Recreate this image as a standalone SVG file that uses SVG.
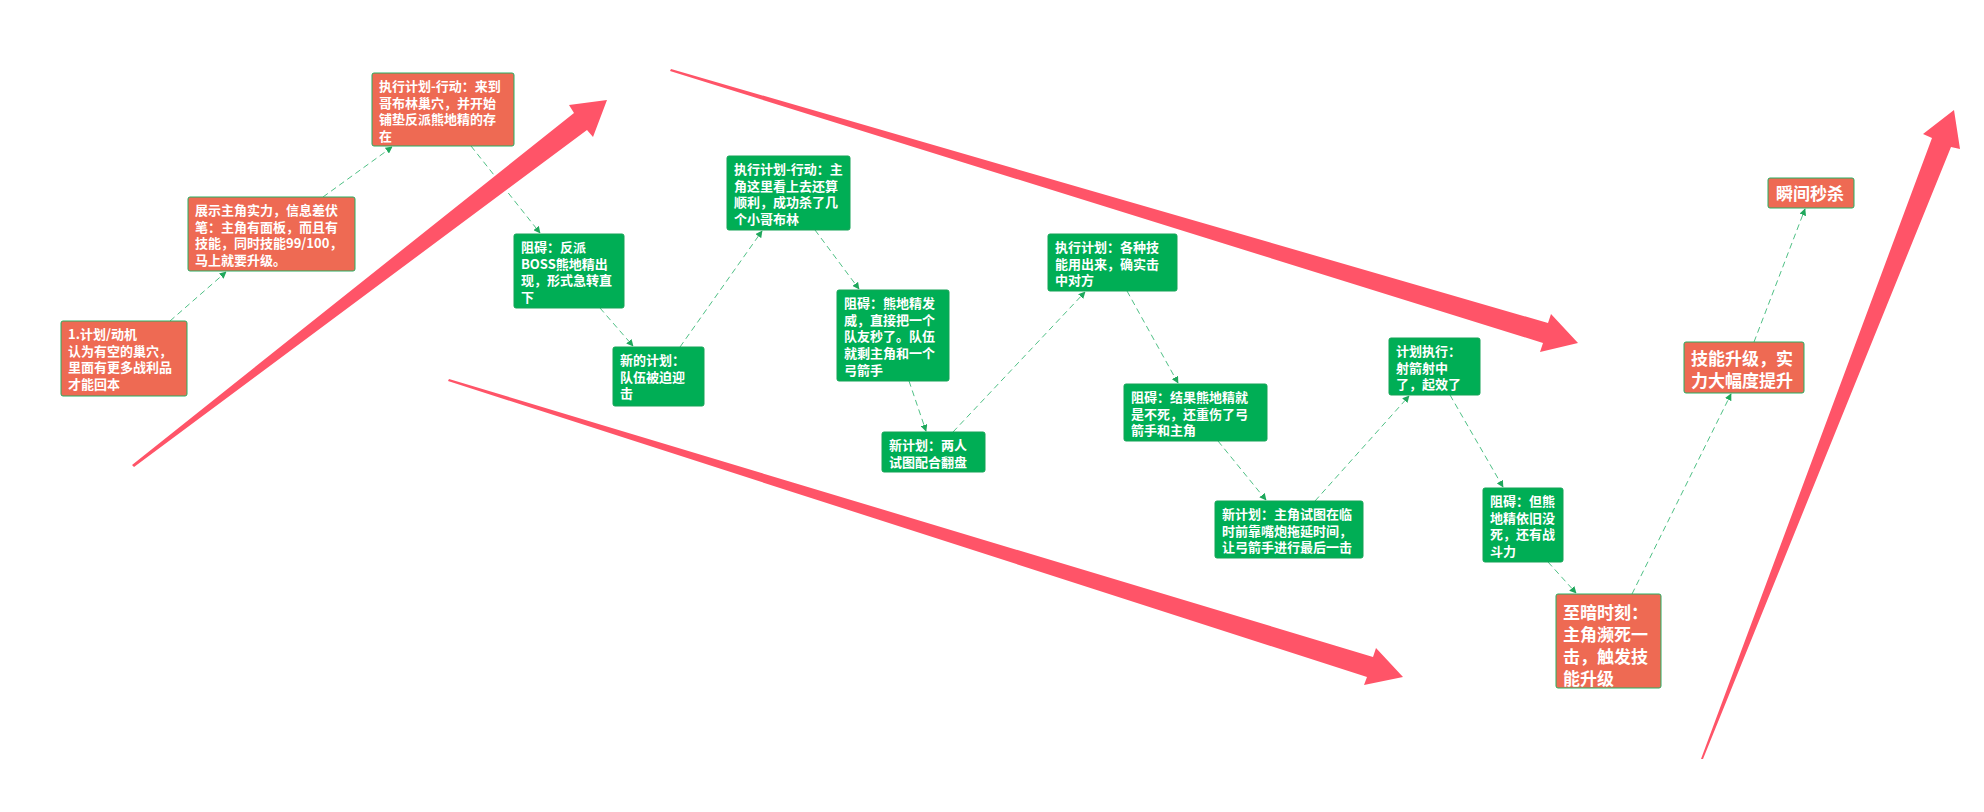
<svg xmlns="http://www.w3.org/2000/svg" width="1984" height="812" viewBox="0 0 1984 812">
<style>
.bg{fill:#ffffff}
.o{fill:#EE6A53;stroke:#27AE60;stroke-width:1}
.g{fill:#00AE55;stroke:#15A356;stroke-width:1}
.t{font-family:"Noto Sans CJK SC","Noto Sans",sans-serif;font-size:13px;font-weight:bold;fill:#ffffff}
.tb{font-family:"Noto Sans CJK SC","Noto Sans",sans-serif;font-size:17px;font-weight:bold;fill:#ffffff}
.c{fill:none;stroke:#4FC085;stroke-width:1;stroke-dasharray:6 4}
.big{fill:#FF5468}
</style>
<defs>
<marker id="ah" viewBox="0 0 10 10" refX="9" refY="5" markerWidth="7" markerHeight="7" markerUnits="userSpaceOnUse" orient="auto">
<path d="M0,0 L10,5 L0,10 z" fill="#1FA85C"/>
</marker>
</defs>
<rect class="bg" x="0" y="0" width="1984" height="812"/>
<g id="connectors">
<line class="c" x1="170" y1="321" x2="226" y2="272" marker-end="url(#ah)"/>
<line class="c" x1="323" y1="197" x2="392" y2="147" marker-end="url(#ah)"/>
<line class="c" x1="471" y1="146" x2="540" y2="233" marker-end="url(#ah)"/>
<line class="c" x1="600" y1="308" x2="633" y2="346" marker-end="url(#ah)"/>
<line class="c" x1="680" y1="347" x2="762" y2="231" marker-end="url(#ah)"/>
<line class="c" x1="815" y1="230" x2="859" y2="289" marker-end="url(#ah)"/>
<line class="c" x1="909" y1="381" x2="926" y2="431" marker-end="url(#ah)"/>
<line class="c" x1="953" y1="432" x2="1085" y2="292" marker-end="url(#ah)"/>
<line class="c" x1="1127" y1="291" x2="1178" y2="383" marker-end="url(#ah)"/>
<line class="c" x1="1218" y1="441" x2="1266" y2="500" marker-end="url(#ah)"/>
<line class="c" x1="1315" y1="501" x2="1409" y2="396" marker-end="url(#ah)"/>
<line class="c" x1="1450" y1="395" x2="1503" y2="487" marker-end="url(#ah)"/>
<line class="c" x1="1548" y1="562" x2="1576" y2="593" marker-end="url(#ah)"/>
<line class="c" x1="1632" y1="594" x2="1731" y2="394" marker-end="url(#ah)"/>
<line class="c" x1="1754" y1="342" x2="1805" y2="209" marker-end="url(#ah)"/>
</g>
<g id="trend-arrows">
<polygon class="big" points="132,465 574,113 569,105 607,100 593,137 587,130 134,467"/>
<polygon class="big" points="671,69 1548,323 1551,314 1578,343 1540,352 1543,343 670,71"/>
<polygon class="big" points="449,379 1373,657 1376,648 1403,677 1364,685 1367,677 448,381"/>
<polygon class="big" points="1701,759 1932,138 1923,134 1954,110 1960,149 1951,147 1703,759"/>
</g>
<g id="n1">
<rect class="o" x="61" y="321" width="126" height="75" rx="2"/>
<text class="t" x="68" y="339">1.计划/动机</text>
<text class="t" x="68" y="356">认为有空的巢穴，</text>
<text class="t" x="68" y="372">里面有更多战利品</text>
<text class="t" x="68" y="389">才能回本</text>
</g>
<g id="n2">
<rect class="o" x="188" y="197" width="167" height="74" rx="2"/>
<text class="t" x="195" y="215">展示主角实力，信息差伏</text>
<text class="t" x="195" y="232">笔：主角有面板，而且有</text>
<text class="t" x="195" y="248">技能，同时技能99/100，</text>
<text class="t" x="195" y="265">马上就要升级。</text>
</g>
<g id="n3">
<rect class="o" x="372" y="73" width="142" height="73" rx="2"/>
<text class="t" x="379" y="91">执行计划-行动：来到</text>
<text class="t" x="379" y="108">哥布林巢穴，并开始</text>
<text class="t" x="379" y="124">铺垫反派熊地精的存</text>
<text class="t" x="379" y="141">在</text>
</g>
<g id="n4">
<rect class="g" x="514" y="234" width="110" height="74" rx="2"/>
<text class="t" x="521" y="252">阻碍：反派</text>
<text class="t" x="521" y="269">BOSS熊地精出</text>
<text class="t" x="521" y="285">现，形式急转直</text>
<text class="t" x="521" y="302">下</text>
</g>
<g id="n5">
<rect class="g" x="613" y="347" width="91" height="59" rx="2"/>
<text class="t" x="620" y="365">新的计划：</text>
<text class="t" x="620" y="382">队伍被迫迎</text>
<text class="t" x="620" y="398">击</text>
</g>
<g id="n6">
<rect class="g" x="727" y="156" width="123" height="74" rx="2"/>
<text class="t" x="734" y="174">执行计划-行动：主</text>
<text class="t" x="734" y="191">角这里看上去还算</text>
<text class="t" x="734" y="207">顺利，成功杀了几</text>
<text class="t" x="734" y="224">个小哥布林</text>
</g>
<g id="n7">
<rect class="g" x="837" y="290" width="112" height="91" rx="2"/>
<text class="t" x="844" y="308">阻碍：熊地精发</text>
<text class="t" x="844" y="325">威，直接把一个</text>
<text class="t" x="844" y="341">队友秒了。队伍</text>
<text class="t" x="844" y="358">就剩主角和一个</text>
<text class="t" x="844" y="375">弓箭手</text>
</g>
<g id="n8">
<rect class="g" x="882" y="432" width="103" height="40" rx="2"/>
<text class="t" x="889" y="450">新计划：两人</text>
<text class="t" x="889" y="467">试图配合翻盘</text>
</g>
<g id="n9">
<rect class="g" x="1048" y="234" width="129" height="57" rx="2"/>
<text class="t" x="1055" y="252">执行计划：各种技</text>
<text class="t" x="1055" y="269">能用出来，确实击</text>
<text class="t" x="1055" y="285">中对方</text>
</g>
<g id="n10">
<rect class="g" x="1124" y="384" width="143" height="57" rx="2"/>
<text class="t" x="1131" y="402">阻碍：结果熊地精就</text>
<text class="t" x="1131" y="419">是不死，还重伤了弓</text>
<text class="t" x="1131" y="435">箭手和主角</text>
</g>
<g id="n11">
<rect class="g" x="1215" y="501" width="148" height="57" rx="2"/>
<text class="t" x="1222" y="519">新计划：主角试图在临</text>
<text class="t" x="1222" y="536">时前靠嘴炮拖延时间，</text>
<text class="t" x="1222" y="552">让弓箭手进行最后一击</text>
</g>
<g id="n12">
<rect class="g" x="1389" y="338" width="91" height="57" rx="2"/>
<text class="t" x="1396" y="356">计划执行：</text>
<text class="t" x="1396" y="373">射箭射中</text>
<text class="t" x="1396" y="389">了，起效了</text>
</g>
<g id="n13">
<rect class="g" x="1483" y="488" width="80" height="74" rx="2"/>
<text class="t" x="1490" y="506">阻碍：但熊</text>
<text class="t" x="1490" y="523">地精依旧没</text>
<text class="t" x="1490" y="539">死，还有战</text>
<text class="t" x="1490" y="556">斗力</text>
</g>
<g id="n14">
<rect class="o" x="1556" y="594" width="105" height="94" rx="2"/>
<text class="tb" x="1563" y="619">至暗时刻：</text>
<text class="tb" x="1563" y="641">主角濒死一</text>
<text class="tb" x="1563" y="663">击，触发技</text>
<text class="tb" x="1563" y="685">能升级</text>
</g>
<g id="n15">
<rect class="o" x="1684" y="342" width="120" height="51" rx="2"/>
<text class="tb" x="1691" y="365">技能升级，实</text>
<text class="tb" x="1691" y="387">力大幅度提升</text>
</g>
<g id="n16">
<rect class="o" x="1768" y="178" width="86" height="30" rx="2"/>
<text class="tb" x="1776" y="200">瞬间秒杀</text>
</g>
</svg>
